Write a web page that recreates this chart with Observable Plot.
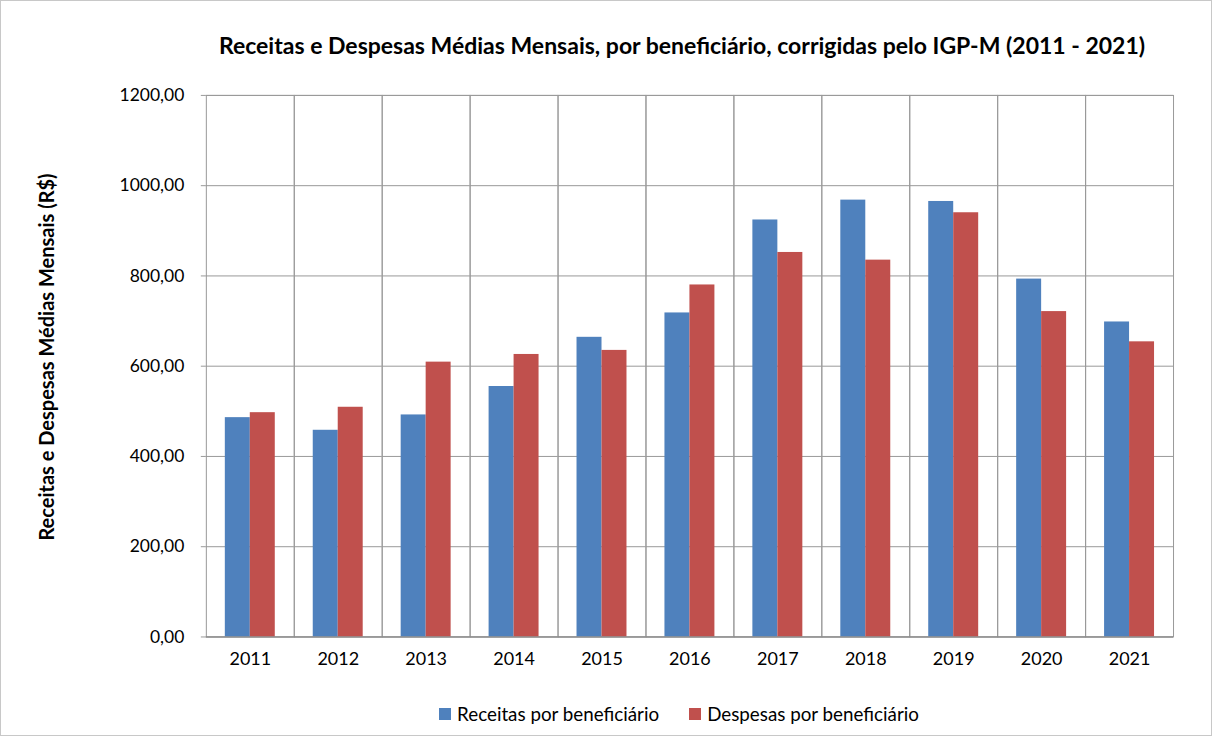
<!DOCTYPE html>
<html>
<head>
<meta charset="utf-8">
<script src="https://cdn.jsdelivr.net/npm/d3@7"></script>
<script src="https://cdn.jsdelivr.net/npm/@observablehq/plot@0.6"></script>
<style>
  html, body { margin: 0; padding: 0; background: #fff; }
  #wrap { position: relative; width: 1210px; height: 734px; border: 1px solid #c8c8c8; font-family: Lato, "Liberation Sans", sans-serif; color: #000; overflow: hidden; }
  #title { position: absolute; top: 30px; left: 150px; width: 1062px; text-align: center; font-weight: bold; font-size: 23px; line-height: 28px; }
  #ylabel { position: absolute; left: 45px; top: 356px; transform: translate(-50%, -50%) rotate(-90deg); white-space: nowrap; font-weight: bold; font-size: 20px; }
  #chart { position: absolute; left: -1px; top: -1px; }
  #legend { position: absolute; top: 702px; left: 0; width: 1356px; display: flex; justify-content: center; gap: 30px; font-size: 18.8px; line-height: 22px; }
  .item { display: flex; align-items: center; gap: 6px; }
  .sw { width: 12px; height: 12px; display: inline-block; }
</style>
</head>
<body>
<div id="wrap">
  <div id="title">Receitas e Despesas Médias Mensais, por beneficiário, corrigidas pelo IGP-M (2011 - 2021)</div>
  <div id="ylabel">Receitas e Despesas Médias Mensais (R$)</div>
  <div id="chart"></div>
  <div id="legend"></div>
</div>
<script>
const years = ["2011","2012","2013","2014","2015","2016","2017","2018","2019","2020","2021"];
const seriesNames = ["Receitas por beneficiário", "Despesas por beneficiário"];
const receitas = [486, 458, 492, 555, 664, 718, 924, 968, 965, 793, 698];
const despesas = [497, 509, 609, 626, 635, 780, 852, 835, 940, 721, 654];
const yTicks = [0, 200, 400, 600, 800, 1000, 1200];
const colors = ["#4f81bd", "#c0504d"];

const data = [];
years.forEach((y, i) => {
  data.push({year: y, series: seriesNames[0], value: receitas[i]});
  data.push({year: y, series: seriesNames[1], value: despesas[i]});
});

const fmt = d => d.toFixed(2).replace(".", ",");

const chart = Plot.plot({
  width: 1212,
  height: 690,
  marginLeft: 205,
  marginRight: 38,
  marginTop: 95,
  marginBottom: 53,
  style: {fontFamily: "Lato, 'Liberation Sans', sans-serif", fontSize: "17px", color: "#000", background: "transparent"},
  fx: {domain: years, padding: 0, label: null},
  x: {domain: seriesNames, paddingInner: 0, paddingOuter: 0.76, axis: null},
  y: {domain: [0, 1200], label: null},
  color: {domain: seriesNames, range: colors},
  marks: [
    Plot.gridY(yTicks, {stroke: "#999", strokeOpacity: 1}),
    Plot.frame({stroke: "#999"}),
    Plot.barY(data, {fx: "year", x: "series", y: "value", fill: "series"}),
    Plot.ruleY([0], {stroke: "#888"}),
    Plot.axisY(yTicks, {tickFormat: fmt, tickSize: 5, tickPadding: 17, stroke: "#999", fontSize: 17.5, label: null}),
    Plot.axisFx({anchor: "bottom", tickSize: 0, tickPadding: 15, fontSize: 18, label: null})
  ]
});
document.getElementById("chart").appendChild(chart);

const legend = document.getElementById("legend");
seriesNames.forEach((s, i) => {
  const it = document.createElement("div");
  it.className = "item";
  const sw = document.createElement("span");
  sw.className = "sw";
  sw.style.background = colors[i];
  const t = document.createElement("span");
  t.textContent = s;
  it.appendChild(sw); it.appendChild(t);
  legend.appendChild(it);
});
</script>
</body>
</html>
